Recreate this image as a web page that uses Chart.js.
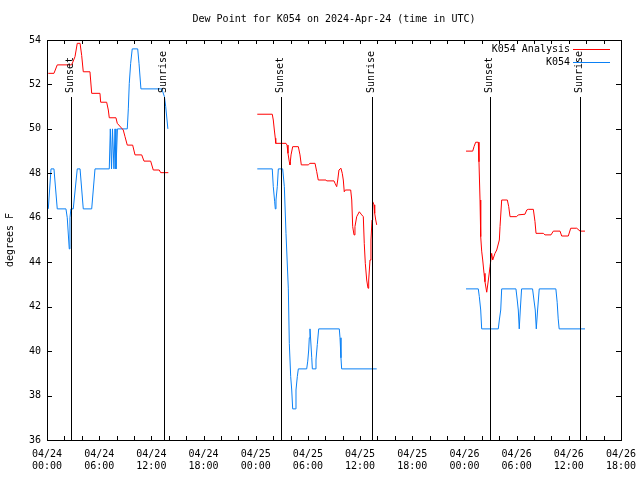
<!DOCTYPE html>
<html>
<head>
<meta charset="utf-8">
<script src="https://cdn.jsdelivr.net/npm/chart.js@4"></script>
<style>
  html, body { margin: 0; padding: 0; background: #fff; }
  #wrap { width: 640px; height: 480px; }
</style>
</head>
<body>
<div id="wrap"><canvas id="dewChart" width="640" height="480"></canvas></div>
<script>
// hours since 2024-04-24 00:00 UTC, null breaks the line
const analysisHours = [0.15, 0.8, 1.18, 2.84, 3.22, 3.48, 3.8, 3.99, 4.17, 4.94, 5.14, 6.09, 6.17, 6.86, 7.05, 7.16, 7.93, 8.08, 8.77, 8.97, 9.23, 9.85, 10.12, 10.89, 11.15, 11.92, 12.22, 12.91, 13.07, 13.95,
  19,
  24.18, 25.9, 26.02, 26.14, 26.25, 26.3, 27.48, 27.6, 27.71, 27.86, 27.94, 28.06, 28.25, 28.9, 29.09, 29.24, 30.04, 30.24, 30.82, 31.01, 31.19, 32.08, 32.16, 33.0, 33.12, 33.31, 33.43, 33.57, 33.8, 33.95, 34.07, 34.18, 34.3, 34.92, 35.04, 35.15, 35.3, 35.41, 35.61, 35.91, 36.19, 36.37, 36.48, 36.6, 36.76, 36.91, 36.99, 37.14, 37.25, 37.37, 37.45, 37.6, 37.68, 37.8, 37.91,
  43,
  48.18, 48.95, 49.1, 49.29, 49.59, 49.67, 49.79, 49.87, 49.98, 50.1, 50.25, 50.36, 50.56, 50.75, 50.94, 51.13, 51.25, 51.51, 51.71, 52.01, 52.09, 52.28, 52.93, 53.09, 53.24, 54.0, 54.19, 54.96, 55.16, 55.34, 55.92, 56.11, 56.23, 57.07, 57.26, 57.95, 58.22, 58.99, 59.18, 59.94, 60.22, 60.91, 61.29, 61.86];
const analysisValues = [52.5, 52.5, 52.88, 52.88, 53.25, 53.85, 53.85, 53.3, 52.57, 52.57, 51.6, 51.6, 51.2, 51.2, 50.85, 50.5, 50.5, 50.25, 49.95, 49.65, 49.27, 49.27, 48.83, 48.83, 48.55, 48.55, 48.15, 48.15, 48.03, 48.03,
  null,
  50.66, 50.66, 50.4, 49.95, 49.58, 49.35, 49.35, 49.27, 48.9, 48.52, 48.38, 48.83, 49.2, 49.2, 48.83, 48.38, 48.38, 48.45, 48.45, 48.08, 47.7, 47.7, 47.66, 47.66, 47.55, 47.4, 47.7, 48.15, 48.23, 48.0, 47.7, 47.17, 47.25, 47.25, 46.8, 45.6, 45.23, 45.6, 46.05, 46.27, 46.13, 46.05, 44.85, 43.95, 43.2, 42.83, 43.2, 44.1, 45.0, 45.9, 46.72, 46.58, 46.2, 45.9, 45.68,
  null,
  49.0, 49.0, 49.2, 49.4, 49.4, 48.52, 46.8, 45.15, 44.5, 44.1, 43.5, 43.12, 42.65, 43.2, 43.8, 44.4, 44.1, 44.4, 44.55, 45.0, 45.6, 46.8, 46.8, 46.5, 46.05, 46.05, 46.13, 46.16, 46.35, 46.38, 46.38, 45.83, 45.3, 45.3, 45.23, 45.23, 45.4, 45.4, 45.18, 45.18, 45.53, 45.53, 45.4, 45.4];

const obsHours = [0.15, 0.46, 0.8, 1.18, 2.18, 2.33, 2.56, 2.64, 2.75, 3.02, 3.48, 3.8, 4.17, 5.14, 5.52, 7.16, 7.28, 7.42, 7.53, 7.7, 7.82, 7.93, 8.1, 9.23, 9.35, 9.46, 9.62, 9.8, 10.43, 10.58, 10.8, 13.2, 13.5, 13.65, 13.9,
  19,
  24.18, 25.9, 26.02, 26.18, 26.25, 26.33, 26.48, 26.6, 27.1, 27.29, 27.48, 27.75, 27.86, 28.02, 28.14, 28.25, 28.55, 28.63, 28.78, 28.9, 29.86, 29.98, 30.09, 30.16, 30.24, 30.32, 30.44, 30.51, 30.82, 30.93, 31.08, 31.24, 33.61, 33.69, 33.8, 33.88, 37.91,
  43,
  48.18, 49.59, 49.71, 49.87, 49.98, 51.89, 52.01, 52.17, 52.28, 53.92, 54.07, 54.19, 54.3, 54.42, 54.57, 55.83, 55.99, 56.14, 56.26, 56.41, 56.6, 58.51, 58.66, 58.78, 58.89, 61.86];
const obsValues = [46.4, 48.2, 48.2, 46.4, 46.4, 46.0, 44.6, 46.0, 46.4, 46.4, 48.2, 48.2, 46.4, 46.4, 48.2, 48.2, 50.0, 48.2, 50.0, 48.2, 50.0, 48.2, 50.0, 50.0, 50.9, 52.05, 52.95, 53.6, 53.6, 52.95, 51.8, 51.8, 51.45, 51.0, 50.0,
  null,
  48.2, 48.2, 47.4, 46.72, 46.4, 46.8, 47.4, 48.2, 48.2, 47.4, 45.3, 42.8, 40.35, 38.85, 38.25, 37.4, 37.4, 38.25, 38.85, 39.2, 39.2, 39.55, 40.05, 40.6, 41.0, 40.5, 39.7, 39.2, 39.2, 39.6, 40.3, 41.0, 41.0, 40.6, 39.7, 39.2, 39.2,
  null,
  42.8, 42.8, 42.45, 41.85, 41.0, 41.0, 41.4, 41.85, 42.8, 42.8, 42.3, 41.85, 41.0, 41.85, 42.8, 42.8, 42.3, 41.85, 41.0, 41.85, 42.8, 42.8, 42.2, 41.45, 41.0, 41.0];

const sunsetHours = [2.8, 26.93, 50.95];
const sunriseHours = [13.4, 37.32, 61.32];

const tickDates = ['04/24', '04/24', '04/24', '04/24', '04/25', '04/25', '04/25', '04/25', '04/26', '04/26', '04/26', '04/26'];
const tickTimes = ['00:00', '06:00', '12:00', '18:00', '00:00', '06:00', '12:00', '18:00', '00:00', '06:00', '12:00', '18:00'];

const seriesLabels = ['K054 Analysis', 'K054'];
const seriesColors = ['#ff0000', '#0a80f5'];

const FONT = 'DejaVu Sans Mono';

function toPoints(hours, values) {
  return hours.map((h, i) => ({ x: h, y: values[i] }));
}

// frame, inward ticks, sun lines, title and legend, gnuplot style
const gnuplotDecor = {
  id: 'gnuplotDecor',
  afterDatasetsDraw(chart) {
    const { ctx, chartArea: a, scales: { x, y } } = chart;
    ctx.save();
    ctx.strokeStyle = '#000';
    ctx.lineWidth = 1;

    // sunset / sunrise markers
    ctx.fillStyle = '#000';
    ctx.font = '10px ' + FONT;
    const marks = sunsetHours.map(h => [h, 'Sunset']).concat(sunriseHours.map(h => [h, 'Sunrise']));
    marks.forEach(([h, txt]) => {
      const px = Math.round(x.getPixelForValue(h)) + 0.5;
      ctx.beginPath();
      ctx.moveTo(px, a.top + 57);
      ctx.lineTo(px, a.bottom);
      ctx.stroke();
      ctx.save();
      ctx.translate(px - 1, a.top + 53);
      ctx.rotate(-Math.PI / 2);
      ctx.textAlign = 'left';
      ctx.textBaseline = 'middle';
      ctx.fillText(txt, 0, 0);
      ctx.restore();
    });

    // border
    ctx.strokeRect(a.left + 0.5, a.top + 0.5, a.right - a.left, a.bottom - a.top);

    // x ticks every 2 hours, inside
    ctx.beginPath();
    for (let h = x.min; h <= x.max; h += 2) {
      const px = Math.round(x.getPixelForValue(h)) + 0.5;
      ctx.moveTo(px, a.bottom); ctx.lineTo(px, a.bottom - 4);
      ctx.moveTo(px, a.top); ctx.lineTo(px, a.top + 4);
    }
    // y ticks every 2 degrees, inside
    for (let v = y.min; v <= y.max; v += 2) {
      const py = Math.round(y.getPixelForValue(v)) + 0.5;
      ctx.moveTo(a.left, py); ctx.lineTo(a.left + 5, py);
      ctx.moveTo(a.right, py); ctx.lineTo(a.right - 5, py);
    }
    ctx.stroke();

    // title, centred on the plot area
    ctx.textAlign = 'center';
    ctx.textBaseline = 'middle';
    ctx.fillText('Dew Point for K054 on 2024-Apr-24 (time in UTC)', (a.left + a.right) / 2, 19);

    // legend, top right inside the plot
    chart.data.datasets.forEach((ds, i) => {
      const ly = a.top + 9 + i * 13;
      ctx.textAlign = 'right';
      ctx.fillStyle = '#000';
      ctx.fillText(ds.label, a.right - 51, ly);
      ctx.strokeStyle = ds.borderColor;
      ctx.beginPath();
      ctx.moveTo(a.right - 48, ly + 0.5);
      ctx.lineTo(a.right - 11, ly + 0.5);
      ctx.stroke();
    });
    ctx.restore();
  }
};

new Chart(document.getElementById('dewChart'), {
  type: 'line',
  data: {
    datasets: [
      {
        label: seriesLabels[0],
        data: toPoints(analysisHours, analysisValues),
        borderColor: seriesColors[0],
        borderWidth: 1,
        pointRadius: 0,
        tension: 0,
        spanGaps: false
      },
      {
        label: seriesLabels[1],
        data: toPoints(obsHours, obsValues),
        borderColor: seriesColors[1],
        borderWidth: 1,
        pointRadius: 0,
        tension: 0,
        spanGaps: false
      }
    ]
  },
  options: {
    responsive: false,
    animation: false,
    layout: { padding: { top: 40, right: 19, left: 0, bottom: 0 } },
    plugins: {
      legend: { display: false },
      title: { display: false },
      tooltip: { enabled: false }
    },
    scales: {
      x: {
        type: 'linear',
        min: 0,
        max: 66,
        grid: { display: false, drawTicks: false },
        border: { display: false },
        ticks: {
          stepSize: 6,
          autoSkip: false,
          maxRotation: 0,
          padding: 8,
          color: '#000',
          font: { family: FONT, size: 10, lineHeight: 1.2 },
          callback: (v) => {
            const i = Math.round(v / 6);
            return [tickDates[i], tickTimes[i]];
          }
        },
        afterFit: (s) => {
          s.height = 40;
          // keep the plot edges fixed, labels may overhang
          s.paddingLeft = 0;
          s.paddingRight = 0;
        }
      },
      y: {
        min: 36,
        max: 54,
        grid: { display: false, drawTicks: false },
        border: { display: false },
        ticks: {
          stepSize: 2,
          padding: 6,
          color: '#000',
          font: { family: FONT, size: 10 }
        },
        title: {
          display: true,
          text: 'degrees F',
          color: '#000',
          font: { family: FONT, size: 10 },
          padding: { top: 4, bottom: 0 }
        },
        afterFit: (s) => {
          s.width = 47;
          s.paddingTop = 0;
          s.paddingBottom = 0;
        }
      }
    }
  },
  plugins: [gnuplotDecor]
});
</script>
</body>
</html>
